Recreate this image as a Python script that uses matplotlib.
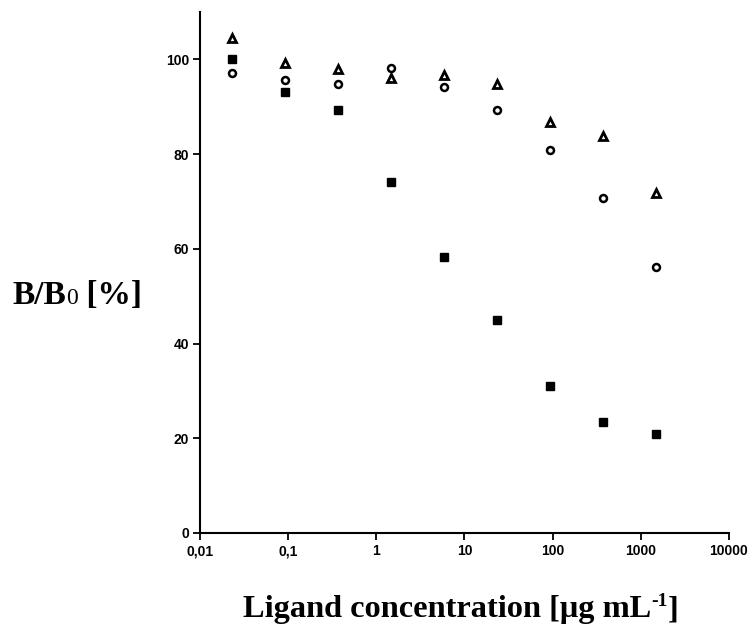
import numpy as np
import matplotlib
matplotlib.use("Agg")
import matplotlib.pyplot as plt
from matplotlib.ticker import FixedLocator, FixedFormatter, NullLocator

# Ligand concentration (ug/mL), 4-fold dilution series
conc = [0.0229, 0.0916, 0.366, 1.465, 5.86, 23.44, 93.75, 375, 1500]

# B/B0 [%]
triangles = [104.4, 99.3, 98.0, 96.0, 96.6, 94.7, 86.8, 83.8, 71.8]
circles = [97.2, 95.6, 94.7, 98.2, 94.1, 89.4, 80.9, 70.7, 56.2]
squares = [100.0, 93.1, 89.3, 74.2, 58.3, 44.9, 31.1, 23.4, 21.0]

xticks = [0.01, 0.1, 1, 10, 100, 1000, 10000]
xtick_labels = ["0,01", "0,1", "1", "10", "100", "1000", "10000"]
yticks = [0, 20, 40, 60, 80, 100]

fig = plt.figure(figsize=(7.51, 6.28), dpi=100)
ax = fig.add_axes([0.2663, 0.1513, 0.7044, 0.8297])

ax.plot(conc, triangles, linestyle="none", marker="^", markersize=5.5,
        markerfacecolor="white", markeredgecolor="black", markeredgewidth=2)
ax.plot(conc, circles, linestyle="none", marker="o", markersize=5,
        markerfacecolor="white", markeredgecolor="black", markeredgewidth=1.8)
ax.plot(conc, squares, linestyle="none", marker="s", markersize=5.8,
        markerfacecolor="black", markeredgecolor="black")

ax.set_xscale("log")
ax.set_xlim(0.01, 10000)
ax.set_ylim(0, 110)

ax.xaxis.set_major_locator(FixedLocator(xticks))
ax.xaxis.set_major_formatter(FixedFormatter(xtick_labels))
ax.xaxis.set_minor_locator(NullLocator())
ax.set_yticks(yticks)

for side in ["top", "right"]:
    ax.spines[side].set_visible(False)
for side in ["left", "bottom"]:
    ax.spines[side].set_linewidth(1.5)

ax.tick_params(axis="both", direction="out", length=5, width=1.3,
               labelsize=10, pad=3)
for lab in ax.get_xticklabels() + ax.get_yticklabels():
    lab.set_fontfamily("Liberation Sans")
    lab.set_fontweight("bold")

serif = "Liberation Serif"
fig.canvas.draw()
r = fig.canvas.get_renderer()
W = fig.bbox.width


def right_edge(t):
    return t.get_window_extent(r).x1 / W


# x label, with a small raised "-1"
xb = 0.0175
a = fig.text(0.3236, xb, "Ligand concentration [\u03bcg mL", fontsize=23.3,
             fontweight="bold", fontfamily=serif, va="baseline")
b = fig.text(right_edge(a), xb + 0.018, "-1", fontsize=14, fontweight="bold",
             fontfamily=serif, va="baseline")
fig.text(right_edge(b), xb, "]", fontsize=23.3, fontweight="bold",
         fontfamily=serif, va="baseline")

# y label: "B/B" + small "0" on the baseline + " [%]"
yb = 0.516
t1 = fig.text(0.016, yb, "B/B", fontsize=24, fontweight="bold",
              fontfamily=serif, va="baseline")
t2 = fig.text(right_edge(t1), yb, "0", fontsize=17, fontweight="normal",
              fontfamily=serif, va="baseline")
fig.text(right_edge(t2), yb, " [%]", fontsize=24, fontweight="bold",
         fontfamily=serif, va="baseline")

fig.savefig("out.png", dpi=100)
